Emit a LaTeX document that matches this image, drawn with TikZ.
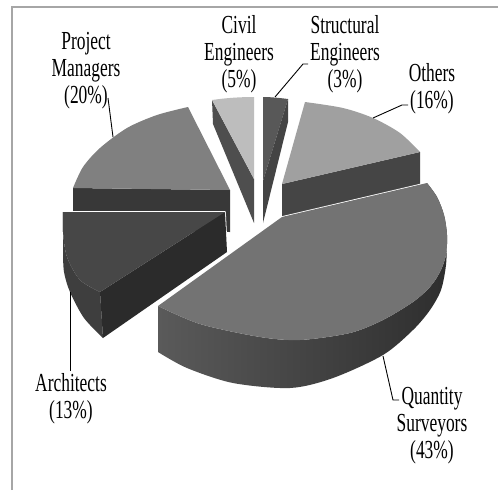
\documentclass[tikz,border=0pt]{standalone}
\usepackage{fontspec}
\setmainfont{Liberation Serif}[FakeStretch=0.67]
\definecolor{framecol}{HTML}{A6A6A6}
\definecolor{pmtop}{HTML}{808080}
\definecolor{pmside}{HTML}{383838}
\definecolor{civtop}{HTML}{BDBDBD}
\definecolor{civside}{HTML}{4E4E4E}
\definecolor{sttop}{HTML}{585858}
\definecolor{stside}{HTML}{444444}
\definecolor{othtop}{HTML}{A0A0A0}
\definecolor{othside}{HTML}{454545}
\definecolor{artop}{HTML}{474747}
\definecolor{arcurv}{HTML}{3E3E3E}
\definecolor{arrad}{HTML}{2B2B2B}
\definecolor{qstop}{HTML}{737373}
\definecolor{qsL}{HTML}{5A5A5A}
\definecolor{qsM}{HTML}{454545}
\definecolor{qsR}{HTML}{2E2E2E}
\begin{document}
\begin{tikzpicture}[x=1pt,y=-1pt,
  lbl/.style={font=\fontsize{26}{27}\selectfont, align=center, anchor=north, inner sep=0pt},
  lead/.style={draw=black, line width=0.9pt},
  gap/.style={draw=white, line width=1.6pt, line join=round}]
\useasboundingbox (0,0) rectangle (498,490);
\fill[white] (0,0) rectangle (498,490);
\draw[framecol, line width=1.5pt] (12,490) -- (12,7) -- (498,7);

% Project Managers
\draw[gap] plot[smooth] coordinates {(188,107) (157,115) (127,128) (100,148) (83,167) (73,188)} -- (73,230) -- (230,232) -- (230,190) -- cycle;
\fill[pmside] (73,188) -- (230,190) -- (230,232) -- (73,230) -- cycle;
\fill[pmtop] plot[smooth] coordinates {(188,107) (157,115) (127,128) (100,148) (83,167) (73,188)} -- (230,190) -- cycle;

% Civil Engineers
\draw[gap] (212,100) .. controls (226,98) and (240,97) .. (254,97) -- (254,223) -- (213,124) -- cycle;
\fill[civside] (212,100) -- (254,179) -- (254,223) -- (213,124) -- cycle;
\fill[civtop] (212,100) .. controls (226,98) and (240,97) .. (254,97) -- (254,179) -- cycle;

% Structural Engineers
\draw[gap] (263,97) .. controls (271,97) and (280,98) .. (288,99) -- (288,122) -- (263,223) -- cycle;
\fill[sttop] (263,97) .. controls (271,97) and (280,98) .. (288,99) -- (263,181) -- cycle;
\fill[stside] (288,99) -- (288,122) -- (263,223) -- (263,181) -- cycle;

% Others
\draw[gap] plot[smooth] coordinates {(305,102) (343,108) (373,118) (400,133) (420,152)} -- (420,192) -- (282,228) -- (282,184) -- cycle;
\fill[othside] (282,184) -- (420,152) -- (420,192) -- (282,228) -- cycle;
\fill[othtop] plot[smooth] coordinates {(305,102) (343,108) (373,118) (400,133) (420,152)} -- (282,184) -- cycle;

% Architects
\draw[gap] (225,212) -- (63,212) -- (63,252) -- plot[smooth] coordinates {(63,252) (64,272) (70,292) (84,318) (103,338)} -- (227,252) -- cycle;
\fill[arcurv] plot[smooth] coordinates {(63,212) (63,232) (67,257) (80,280) (100,292)} -- plot[smooth] coordinates {(103,338) (84,318) (70,292) (64,272) (63,252)} -- cycle;
\fill[arrad] (225,212) -- (100,292) -- (103,338) -- (227,252) -- cycle;
\fill[artop] plot[smooth] coordinates {(63,212) (63,232) (67,257) (80,280) (100,292)} -- (225,212) -- cycle;

% Quantity Surveyors
\draw[gap] (282,217) -- plot[smooth] coordinates {(427,183) (437,197) (444,215) (447,235)} -- plot[smooth] coordinates {(447,240) (446,265) (441,290) (430,310) (413,330) (383,355) (333,378) (290,388) (233,383) (187,368) (158,352)} -- (158,306) -- cycle;
\shade[left color=qsL, middle color=qsM, right color=qsR] plot[smooth] coordinates {(427,183) (437,197) (444,215) (447,235) (446,255) (440,272) (430,287) (413,302) (383,320) (350,333) (300,340) (260,337) (200,324) (158,306)} -- plot[smooth] coordinates {(158,352) (187,368) (233,383) (290,388) (333,378) (383,355) (413,330) (430,310) (441,290) (446,265) (447,240)} -- cycle;
\fill[qstop] (282,217) -- plot[smooth] coordinates {(427,183) (437,197) (444,215) (447,235) (446,255) (440,272) (430,287) (413,302) (383,320) (350,333) (300,340) (260,337) (200,324) (158,306)} -- cycle;

% Labels
\node[lbl] (pm) at (86,32.5) {Project\\Managers\\(20\%)};
\node[lbl] (civ) at (239,15.5) {Civil\\Engineers\\(5\%)};
\node[lbl] (st) at (345,15.5) {Structural\\Engineers\\(3\%)};
\node[lbl] (oth) at (432,63.5) {Others\\(16\%)};
\node[lbl] (ar) at (71,373.5) {Architects\\(13\%)};
\node[lbl] (qs) at (432,387.5) {Quantity\\Surveyors\\(43\%)};

% Leader lines
\coordinate (pmA) at (113,137); \coordinate (pmB) at (108,98);
\coordinate (stA) at (275,97); \coordinate (stB) at (303,64); \coordinate (stC) at (308,64);
\coordinate (othA) at (373,118); \coordinate (othB) at (402,105); \coordinate (othC) at (408,105);
\coordinate (arA) at (70,292); \coordinate (arB) at (70,371);
\coordinate (qsA) at (383,356); \coordinate (qsB) at (393,400); \coordinate (qsC) at (399,400);
\draw[lead] (pmA) -- (pmB);
\draw[lead] (stA) -- (stB) -- (stC);
\draw[lead] (othA) -- (othB) -- (othC);
\draw[lead] (arA) -- (arB);
\draw[lead] (qsA) -- (qsB) -- (qsC);
\end{tikzpicture}
\end{document}
